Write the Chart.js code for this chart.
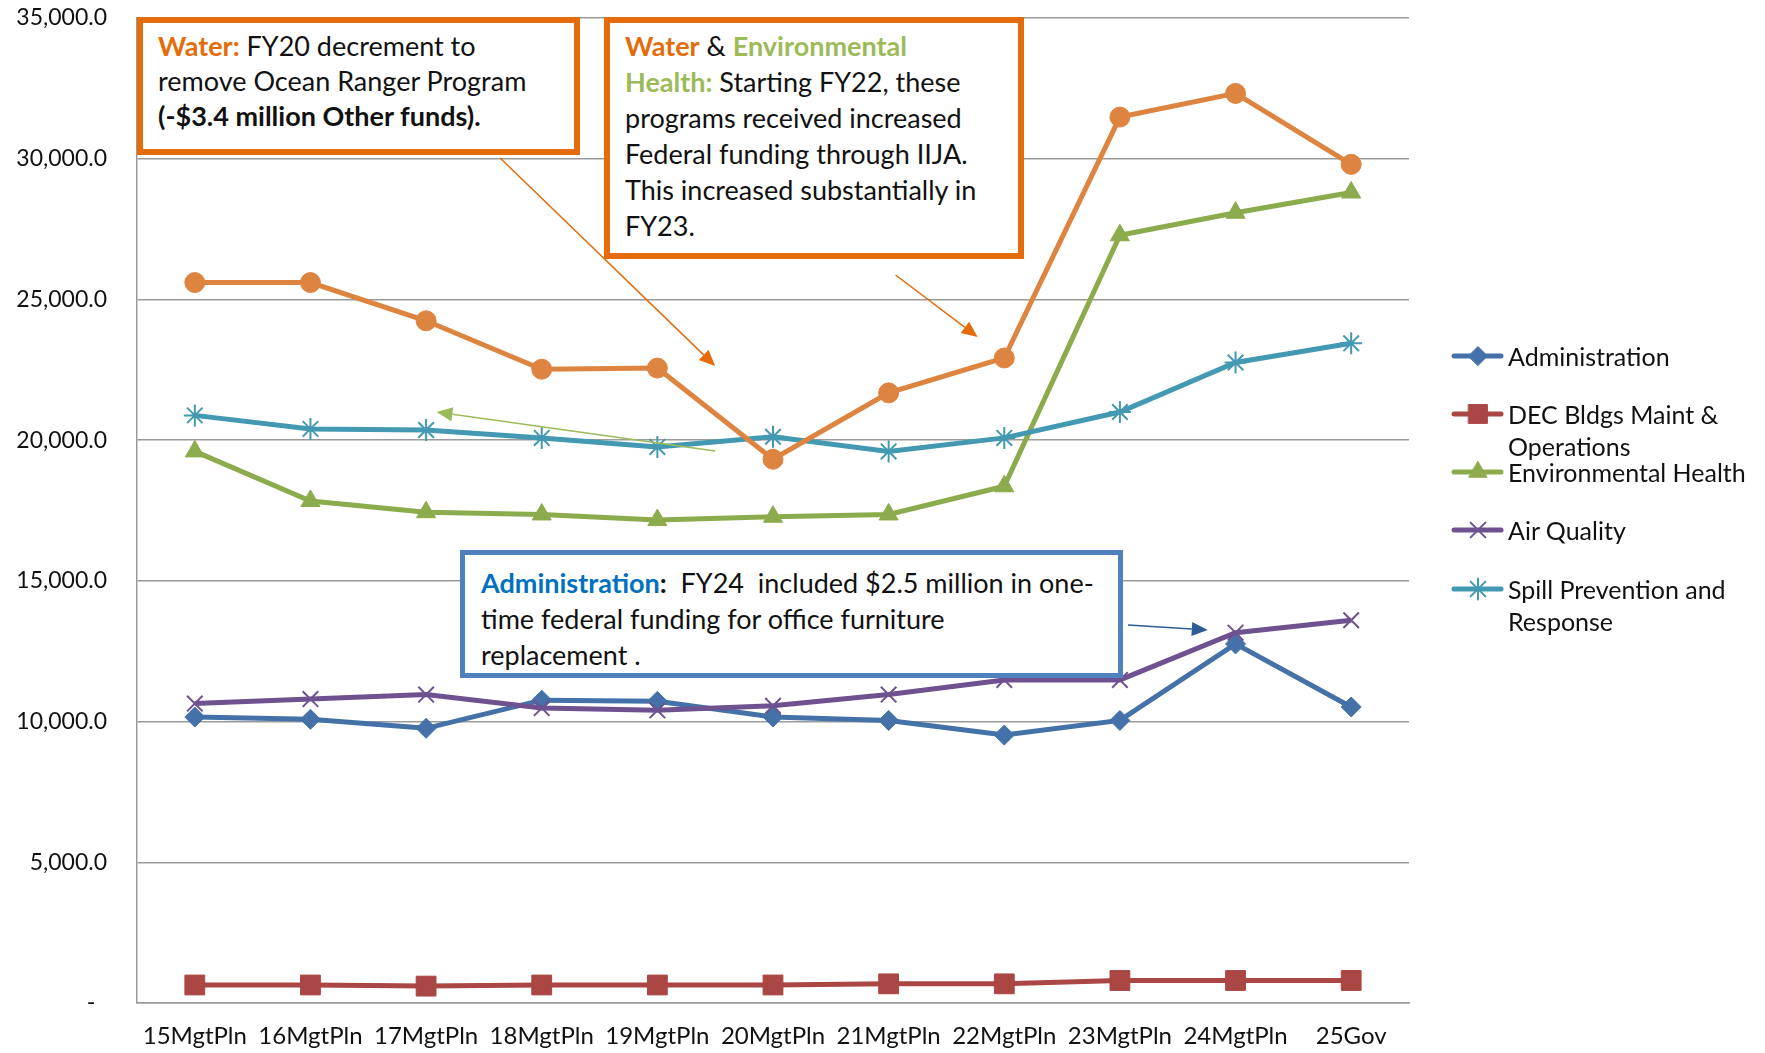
<!DOCTYPE html>
<html>
<head>
<meta charset="utf-8">
<script src="https://cdn.jsdelivr.net/npm/chart.js@4/dist/chart.umd.min.js"></script>
<style>
  html, body { margin: 0; padding: 0; background: #fff; }
  #wrap { position: relative; width: 1765px; height: 1053px; overflow: hidden; font-family: Lato, "Open Sans", sans-serif; color: #111; }
  #c { position: absolute; left: 0; top: 0; }
  .box { position: absolute; background: #fff; box-sizing: border-box; }
  .box .ln { position: absolute; white-space: nowrap; font-size: 27px; line-height: 32px; }
  .orange { color: #E46C0A; font-weight: bold; }
  .green { color: #9BBB59; font-weight: bold; }
  .blue { color: #0070C0; font-weight: bold; }
  .leg { position: absolute; font-size: 25px; line-height: 28px; white-space: nowrap; color: #111; }
</style>
</head>
<body>
<div id="wrap">
  <canvas id="c" width="1765" height="1053"></canvas>

  <div class="box" style="left:137px; top:17px; width:443px; height:138px; border:6px solid #E46C0A;">
    <div class="ln" style="left:15px; top:7px;"><span class="orange">Water:</span> FY20 decrement to</div>
    <div class="ln" style="left:15px; top:42px;">remove Ocean Ranger Program</div>
    <div class="ln" style="left:15px; top:77px; font-weight:bold;">(-$3.4 million Other funds).</div>
  </div>

  <div class="box" style="left:604px; top:17px; width:420px; height:242px; border:6px solid #E46C0A;">
    <div class="ln" style="left:15px; top:7px;"><span class="orange">Water</span> &amp; <span class="green">Environmental</span></div>
    <div class="ln" style="left:15px; top:43px;"><span class="green">Health:</span> Starting FY22, these</div>
    <div class="ln" style="left:15px; top:79px;">programs received increased</div>
    <div class="ln" style="left:15px; top:115px;">Federal funding through IIJA.</div>
    <div class="ln" style="left:15px; top:151px;">This increased substantially in</div>
    <div class="ln" style="left:15px; top:187px;">FY23.</div>
  </div>

  <div class="box" style="left:460px; top:550px; width:663px; height:128px; border:5px solid #4F81BD;">
    <div class="ln" style="left:16px; top:12px;"><span class="blue">Administration</span><b>:</b>&nbsp; FY24&nbsp; included $2.5 million in one-</div>
    <div class="ln" style="left:16px; top:48px;">time federal funding for office furniture</div>
    <div class="ln" style="left:16px; top:84px;">replacement .</div>
  </div>

  <div class="leg" style="left:1508px; top:342px;">Administration</div>
  <div class="leg" style="left:1508px; top:400px;">DEC Bldgs Maint &amp;<br><span style="position:relative; top:4px;">Operations</span></div>
  <div class="leg" style="left:1508px; top:458px;">Environmental Health</div>
  <div class="leg" style="left:1508px; top:516px;">Air Quality</div>
  <div class="leg" style="left:1508px; top:575px;">Spill Prevention and<br><span style="position:relative; top:4px;">Response</span></div>
</div>

<script>
// ---- data ----
const categories = ['15MgtPln','16MgtPln','17MgtPln','18MgtPln','19MgtPln','20MgtPln','21MgtPln','22MgtPln','23MgtPln','24MgtPln','25Gov'];
const administration      = [10160, 10080,  9760, 10760, 10720, 10160, 10040,  9520, 10040, 12760, 10520];
const decBldgs            = [  640,   640,   600,   640,   640,   640,   680,   680,   800,   800,   800];
const environmentalHealth = [19600, 17840, 17440, 17360, 17160, 17280, 17360, 18360, 27280, 28080, 28800];
const airQuality          = [10640, 10800, 10960, 10480, 10400, 10560, 10960, 11480, 11480, 13160, 13600];
const spillPrevention     = [20880, 20400, 20360, 20080, 19760, 20120, 19600, 20080, 21000, 22760, 23440];
const water               = [25600, 25600, 24240, 22520, 22560, 19320, 21680, 22920, 31480, 32320, 29800];
const yTicks = [0, 5000, 10000, 15000, 20000, 25000, 30000, 35000];

// ---- series styling ----
const seriesDefs = [
  { label: 'Administration', data: administration, color: '#4472A8', style: 'rectRot', r: 10, bw: 1, legendY: 356 },
  { label: 'DEC Bldgs Maint & Operations', data: decBldgs, color: '#AA4644', style: 'rect', r: 14, bw: 1, legendY: 414 },
  { label: 'Environmental Health', data: environmentalHealth, color: '#8CAB4C', style: 'triangle', r: 11, bw: 1, legendY: 472 },
  { label: 'Air Quality', data: airQuality, color: '#6E5290', style: 'crossRot', r: 11, bw: 2, legendY: 530 },
  { label: 'Spill Prevention and Response', data: spillPrevention, color: '#4399B2', style: 'star', r: 11, bw: 2, legendY: 589 },
  { label: 'Water', data: water, color: '#DE8441', style: 'circle', r: 10, bw: 1, legendY: null }
];

const datasets = seriesDefs.map((s, i) => ({
  label: s.label,
  data: s.data,
  borderColor: s.color,
  backgroundColor: s.color,
  borderWidth: 5,
  pointStyle: s.style,
  pointRadius: s.r,
  pointHoverRadius: s.r,
  pointBorderWidth: s.bw,
  pointBorderColor: s.color,
  pointBackgroundColor: s.color,
  tension: 0,
  order: seriesDefs.length - i
}));

// arrows anchored in data space (category index, value)
const arrows = [
  { from: [2.64, 30025], to: [4.50, 22634], color: '#E46C0A', w: 1.5 },
  { from: [6.06, 25868], to: [6.77, 23665], color: '#E46C0A', w: 1.5 },
  { from: [4.50, 19614], to: [2.09, 21000], color: '#9BBB59', w: 1.5 },
  { from: [8.07, 13431], to: [8.76, 13254], color: '#2E5C94', w: 1.5 }
];

const decorPlugin = {
  id: 'decor',
  afterDatasetsDraw(chart) {
    const ctx = chart.ctx;
    const xs = chart.scales.x, ys = chart.scales.y;
    const x0 = xs.getPixelForValue(0), step = xs.getPixelForValue(1) - x0;
    const xp = v => x0 + v * step;
    arrows.forEach(a => {
      const x1 = xp(a.from[0]), y1 = ys.getPixelForValue(a.from[1]);
      const x2 = xp(a.to[0]), y2 = ys.getPixelForValue(a.to[1]);
      const ang = Math.atan2(y2 - y1, x2 - x1);
      const hl = 16, hw = 7;
      ctx.save();
      ctx.strokeStyle = a.color; ctx.fillStyle = a.color; ctx.lineWidth = a.w;
      ctx.beginPath();
      ctx.moveTo(x1, y1);
      ctx.lineTo(x2 - hl * Math.cos(ang), y2 - hl * Math.sin(ang));
      ctx.stroke();
      ctx.beginPath();
      ctx.moveTo(x2, y2);
      ctx.lineTo(x2 - hl * Math.cos(ang) + hw * Math.sin(ang), y2 - hl * Math.sin(ang) - hw * Math.cos(ang));
      ctx.lineTo(x2 - hl * Math.cos(ang) - hw * Math.sin(ang), y2 - hl * Math.sin(ang) + hw * Math.cos(ang));
      ctx.closePath();
      ctx.fill();
      ctx.restore();
    });
  },
  afterDraw(chart) {
    const ctx = chart.ctx;
    seriesDefs.forEach(s => {
      if (s.legendY === null) return;
      ctx.save();
      ctx.strokeStyle = s.color; ctx.lineWidth = 5; ctx.lineCap = 'round';
      ctx.beginPath(); ctx.moveTo(1454, s.legendY); ctx.lineTo(1501, s.legendY); ctx.stroke();
      ctx.fillStyle = s.color; ctx.strokeStyle = s.color; ctx.lineWidth = s.bw;
      Chart.helpers.drawPoint(ctx, { pointStyle: s.style, radius: s.r * 0.95, rotation: 0, borderWidth: s.bw }, 1478, s.legendY);
      ctx.restore();
    });
  }
};

const fmt = v => v === 0 ? '-  ' : v.toLocaleString('en-US', { minimumFractionDigits: 1, maximumFractionDigits: 1 });

new Chart(document.getElementById('c'), {
  type: 'line',
  data: { labels: categories, datasets },
  options: {
    responsive: false,
    animation: false,
    devicePixelRatio: 1,
    layout: { padding: { left: 0, right: 356, top: 18, bottom: 0 } },
    plugins: { legend: { display: false }, tooltip: { enabled: false } },
    scales: {
      x: {
        offset: true,
        grid: { display: false, drawTicks: false },
        border: { display: true, color: '#999', width: 1.5 },
        ticks: { color: '#111', font: { family: 'Lato', size: 24 }, padding: 19, maxRotation: 0, autoSkip: false },
        afterFit: s => { s.height = 50; s.paddingLeft = 0; s.paddingRight = 0; }
      },
      y: {
        min: 0, max: 35000,
        afterBuildTicks: s => { s.ticks = yTicks.map(v => ({ value: v })); },
        grid: { color: '#9a9a9a', lineWidth: 1.5, drawTicks: false },
        border: { display: true, color: '#999', width: 1.5 },
        ticks: { color: '#111', font: { family: 'Lato', size: 23 }, padding: 30, callback: v => fmt(v) },
        afterFit: s => { s.width = 137; s.paddingTop = 0; s.paddingBottom = 0; }
      }
    }
  },
  plugins: [decorPlugin]
});
</script>
</body>
</html>
